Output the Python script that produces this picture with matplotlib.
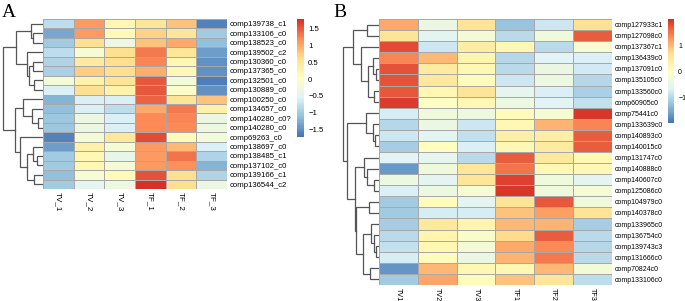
import numpy as np
import matplotlib
matplotlib.use("Agg")
import matplotlib.pyplot as plt
from matplotlib.colors import LinearSegmentedColormap

plt.rcParams['font.family'] = ['Liberation Sans', 'DejaVu Sans']

W, H = 685, 301

# ---- panel A data (row-scaled expression) ----
cols_a = ["TV_1", "TV_2", "TV_3", "TF_1", "TF_2", "TF_3"]
rows_a = ["comp139738_c1", "comp133106_c0", "comp138523_c0", "comp139502_c2",
          "comp130360_c0", "comp137365_c0", "comp132501_c0", "comp130889_c0",
          "comp100250_c0", "comp134657_c0", "comp140280_c0?", "comp140280_c0",
          "comp69263_c0", "comp138697_c0", "comp138485_c1", "comp137102_c0",
          "comp139166_c1", "comp136544_c2"]
vals_a = [
    [-0.80, 1.10, 0.20, 0.50, 0.80, -1.60],
    [-1.30, 1.10, 0.10, 0.70, 0.50, -1.00],
    [-1.00, 0.60, -0.30, 0.80, 1.00, -1.10],
    [-0.80, -0.15, 0.60, 1.30, 0.50, -1.40],
    [-0.90, 0.40, 0.60, 1.25, 0.20, -1.50],
    [-0.95, 0.75, 0.60, 0.95, 0.15, -1.50],
    [-0.20, 0.25, 0.55, 1.50, -0.25, -1.65],
    [-0.60, 0.60, 0.25, 1.50, -0.05, -1.50],
    [-1.20, -0.60, -0.60, 1.45, 0.55, 0.80],
    [-1.10, -0.60, -0.80, 1.00, 1.30, 0.30],
    [-1.05, -0.35, -0.60, 1.20, 1.25, -0.35],
    [-1.05, -0.35, -0.60, 1.20, 1.20, -0.30],
    [-1.60, -0.20, 0.45, 1.60, 0.10, -0.25],
    [-1.40, 0.30, -0.15, 1.10, 0.90, -0.60],
    [-1.00, 0.15, -0.40, 1.10, 1.35, -0.90],
    [-1.00, 0.20, -0.20, 1.10, 1.15, -1.20],
    [-1.10, -0.15, 0.10, 1.55, 0.60, -0.90],
    [-1.00, -0.45, -0.30, 1.75, 0.60, -0.35],
]
range_a = (-1.72, 1.78)
ticks_a = [-1.5, -1, -0.5, 0, 0.5, 1, 1.5]
# row tree: (merge height, left, right); leaves are row indices
tree_a = (40.3,
          (27.0, (12.3, 0, (10.3, 1, 2)),
                 (16.3, 3, (14.0, (10.0, 4, 5), (9.0, 6, 7)))),
          (28.0, (19.7, 8, (10.7, 9, (5.0, 10, 11))),
                 (23.0, 12, (16.3, (10.0, 13, (6.3, 14, 15)), (9.0, 16, 17)))))

# ---- panel B data ----
cols_b = ["TV1", "TV2", "TV3", "TF1", "TF2", "TF3"]
rows_b = ["comp127933c1", "comp127098c0", "comp137367c1", "comp136439c0",
          "comp137091c0", "comp135105c0", "comp133560c0", "comp60905c0",
          "comp75441c0", "comp133639c0", "comp140893c0", "comp140015c0",
          "comp131747c0", "comp140888c0", "comp140607c0", "comp125086c0",
          "comp104979c0", "comp140378c0", "comp133965c0", "comp136754c0",
          "comp139743c3", "comp131666c0", "comp70824c0", "comp133106c0"]
vals_b = [
    [1.10, -0.40, 0.60, -1.20, -0.80, 0.65],
    [0.60, -0.55, -0.25, -0.95, -0.30, 1.65],
    [1.80, -0.80, 0.40, 0.15, -0.95, -0.20],
    [1.40, 1.00, 0.25, -1.00, -0.60, -0.65],
    [1.75, 0.45, 0.15, -0.95, -0.40, -0.75],
    [1.75, 0.50, 0.10, -0.80, -0.35, -1.00],
    [1.70, 0.20, 0.60, -0.50, -0.65, -1.05],
    [1.90, -0.05, 0.15, -0.35, -0.60, -0.85],
    [-0.70, -0.30, -0.35, 0.10, -0.20, 1.95],
    [-1.00, -0.40, -0.80, 0.20, 1.05, 1.40],
    [-0.80, -0.55, -0.85, 0.35, 0.40, 1.65],
    [-1.10, 0.05, -0.65, 0.15, 0.45, 1.65],
    [-0.60, -0.50, -0.95, 1.65, 0.50, 0.20],
    [-1.60, -0.30, 0.55, 1.50, 0.15, 0.15],
    [-0.35, -0.55, 0.55, 1.85, -0.30, -0.55],
    [-0.65, -0.35, -0.20, 1.95, -0.30, -0.20],
    [-1.15, 0.10, -0.55, 0.60, 1.70, -0.30],
    [-1.15, -0.70, -0.70, 0.90, 1.20, 0.60],
    [-1.10, 0.50, 0.25, 1.00, 1.05, -1.10],
    [-0.95, 0.25, -0.10, 0.70, 1.65, -0.95],
    [-0.85, 0.20, -0.25, 1.10, 1.35, -1.00],
    [-0.70, 0.10, -0.40, 1.05, 1.45, -0.95],
    [-1.65, 1.00, 0.15, 0.20, 1.00, -0.25],
    [-1.15, 1.15, 0.10, 0.90, 0.55, -0.90],
]
range_b = (-1.95, 2.0)
ticks_b = [-1, 0, 1]
tree_b = (36.3,
          (25.7, (12.3, 0, 1),
                 (18.3, 2, (10.7, (6.0, 3, (3.0, 4, 5)), (4.7, 6, 7)))),
          (31.7, (13.0, 8, (5.7, 9, (4.0, 10, 11))),
                 (24.5, (14.7, 12, (12.0, 13, (4.7, 14, 15))),
                        (23.5, (9.7, 16, 17),
                               (15.7, (8.3, 18, (4.7, 19, (3.3, 20, 21))),
                                      (9.0, 22, 23))))))

cmap = LinearSegmentedColormap.from_list(
    "pheat", ["#4575B4", "#91BFDB", "#E0F3F8", "#FFFFBF",
              "#FEE090", "#FC8D59", "#D73027"], N=100)

fig = plt.figure(figsize=(W / 100, H / 100), dpi=100)


def box(x, y, w, h):
    return [x / W, 1 - (y + h) / H, w / W, h / H]


def draw_tree(ax, node):
    if isinstance(node, int):
        return node + 0.5, 0.0
    h, left, right = node
    yl, hl = draw_tree(ax, left)
    yr, hr = draw_tree(ax, right)
    ax.plot([hl, h, h, hr], [yl, yl, yr, yr], color="#555555", lw=0.9,
            solid_joinstyle="miter")
    return (yl + yr) / 2, h


def panel(letter, lx, data, rows, cols, rng, ticks, tree,
          hm, tr, cb, fs, lab_fs, cb_fs):
    data = np.array(data)
    n = len(rows)
    fig.text(lx / W, 1 - 4 / H, letter, family="Liberation Serif",
             fontsize=14, va="top", ha="left")

    ax = fig.add_axes(box(*hm))
    mesh = ax.pcolormesh(data, cmap=cmap, vmin=rng[0], vmax=rng[1],
                         edgecolors="#A8A8A8", linewidth=0.6)
    ax.set_xlim(0, len(cols))
    ax.set_ylim(n, 0)
    for s in ax.spines.values():
        s.set_visible(False)
    ax.yaxis.tick_right()
    ax.set_yticks(np.arange(n) + 0.5)
    ax.set_yticklabels(rows, fontsize=fs)
    ax.set_xticks(np.arange(len(cols)) + 0.5)
    ax.set_xticklabels(cols, fontsize=lab_fs, rotation=270, va="top")
    ax.tick_params(length=0, pad=2)

    tax = fig.add_axes(box(*tr))
    draw_tree(tax, tree)
    tax.set_xlim(tr[2], 0)
    tax.set_ylim(n, 0)
    tax.axis("off")

    cax = fig.add_axes(box(*cb))
    c = fig.colorbar(mesh, cax=cax, ticks=ticks)
    c.outline.set_visible(False)
    c.ax.set_yticklabels([("%g" % t).replace("-", "\u2212") for t in ticks])
    c.ax.tick_params(length=0, labelsize=cb_fs, pad=3)


panel("A", 2, vals_a, rows_a, cols_a, range_a, ticks_a, tree_a,
      hm=(43, 19, 184, 170), tr=(0, 19, 43, 170), cb=(297, 19, 7, 118),
      fs=5.6, lab_fs=5.8, cb_fs=5.6)
panel("B", 333, vals_b, rows_b, cols_b, range_b, ticks_b, tree_b,
      hm=(379, 19, 233, 266), tr=(340, 19, 39, 266), cb=(668, 19, 6, 104),
      fs=5.0, lab_fs=5.2, cb_fs=5.0)

fig.savefig("out.png", dpi=100)
